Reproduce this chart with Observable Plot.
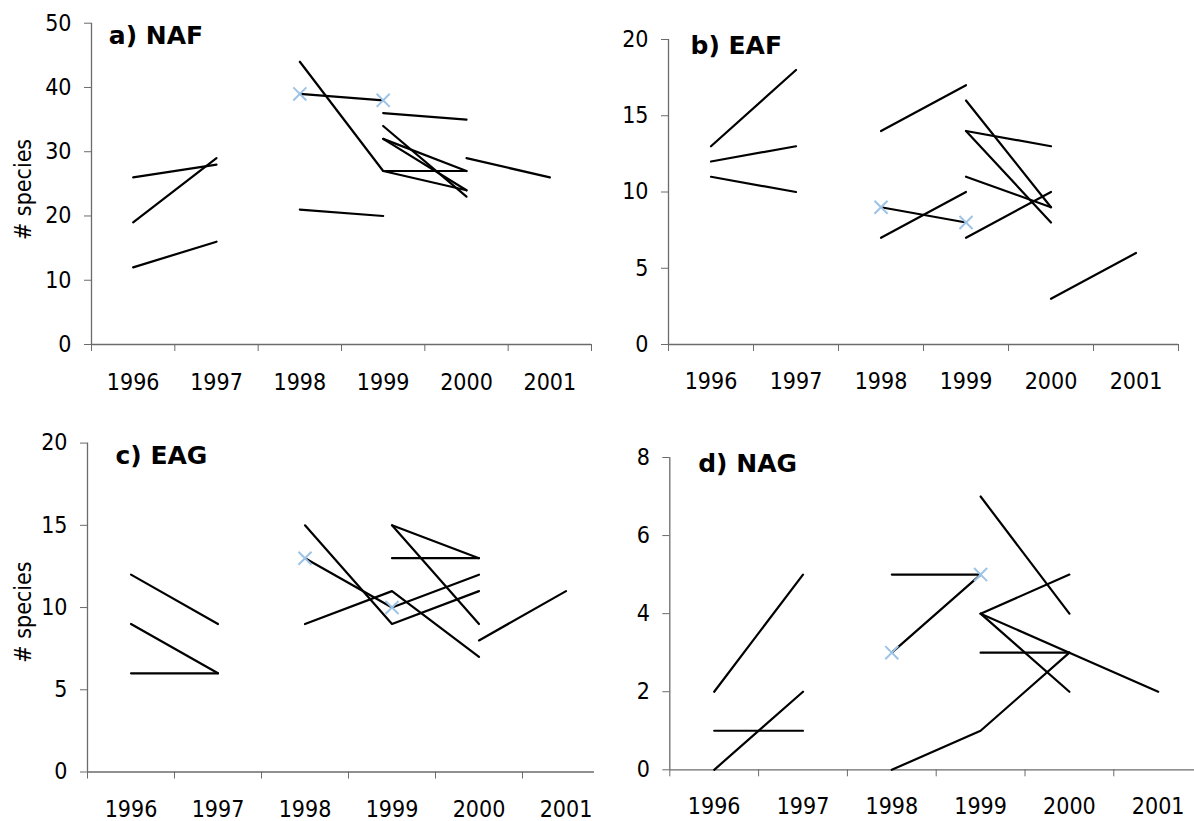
<!DOCTYPE html>
<html>
<head>
<meta charset="utf-8">
<script src="https://cdn.jsdelivr.net/npm/d3@7"></script>
<script src="https://cdn.jsdelivr.net/npm/@observablehq/plot@0.6"></script>
<style>
  html, body { margin: 0; padding: 0; background: #fff; overflow: hidden; width: 1194px; height: 821px; }
  .panel { position: absolute; overflow: hidden; }
</style>
</head>
<body>
<div id="pa" class="panel" style="left:0px;top:0px;width:600px;height:410px"></div>
<div id="pb" class="panel" style="left:600px;top:0px;width:594px;height:410px"></div>
<div id="pc" class="panel" style="left:0px;top:410px;width:594px;height:411px"></div>
<div id="pd" class="panel" style="left:600px;top:410px;width:594px;height:411px"></div>
<script>
// ---------- data ----------
const years = [1996, 1997, 1998, 1999, 2000, 2001];
const yearBounds = [1995.5, 1996.5, 1997.5, 1998.5, 1999.5, 2000.5, 2001.5];

// a) NAF
const nafStart  = [1996, 1996, 1996, 1998, 1998, 1998, 1999, 1999, 1999, 1999, 1999, 2000];
const nafValues = [[26, 28], [19, 29], [12, 16], [44, 27, 27], [39, 38], [21, 20], [36, 35], [34, 23], [32, 27], [32, 24], [27, 24], [29, 26]];
const nafMarkYears = [1998, 1999];
const nafMarkValues = [39, 38];
const nafTicks = [0, 10, 20, 30, 40, 50];

// b) EAF
const eafStart  = [1996, 1996, 1996, 1998, 1998, 1998, 1999, 1999, 1999, 1999, 1999, 2000];
const eafValues = [[13, 18], [12, 13], [11, 10], [14, 17], [9, 8], [7, 10], [16, 9], [14, 13], [14, 8], [11, 9], [7, 10], [3, 6]];
const eafMarkYears = [1998, 1999];
const eafMarkValues = [9, 8];
const eafTicks = [0, 5, 10, 15, 20];

// c) EAG
const eagStart  = [1996, 1996, 1996, 1998, 1998, 1998, 1999, 1999, 1999, 1999, 2000];
const eagValues = [[12, 9], [9, 6], [6, 6], [15, 9, 11], [9, 11, 7], [13, 10], [10, 12], [15, 13], [15, 9], [13, 13], [8, 11]];
const eagMarkYears = [1998, 1999];
const eagMarkValues = [13, 10];
const eagTicks = [0, 5, 10, 15, 20];

// d) NAG
const nagStart  = [1996, 1996, 1996, 1998, 1998, 1998, 1999, 1999, 1999, 1999, 1999];
const nagValues = [[2, 5], [0, 2], [1, 1], [5, 5], [3, 5], [0, 1, 3], [7, 4], [4, 5], [4, 2], [4, 3, 2], [3, 3]];
const nagMarkYears = [1998, 1999];
const nagMarkValues = [3, 5];
const nagTicks = [0, 2, 4, 6, 8];

// ---------- drawing ----------
const FONT = "'DejaVu Sans Condensed', 'DejaVu Sans', sans-serif";
const AXIS = "#6b6b6b";

function toRows(start, values) {
  return values.flatMap((vals, i) => vals.map((v, j) => ({id: i, year: start[i] + j, value: v})));
}

function panel(o) {
  const rows = toRows(o.start, o.values);
  const marks = o.markYears.map((y, i) => ({year: y, value: o.markValues[i]}));
  const plot = Plot.plot({
    width: o.width, height: o.height,
    marginLeft: o.ml, marginRight: o.mr, marginTop: o.mt, marginBottom: o.mb,
    style: {background: "transparent", overflow: "visible", maxWidth: "none", fontFamily: FONT, fontSize: "23px", color: "black"},
    x: {type: "linear", domain: [1995.5, 2001.5]},
    y: {domain: [0, o.ticks[o.ticks.length - 1]]},
    marks: [
      Plot.axisY({ticks: o.ticks, tickSize: 7, tickPadding: 13, stroke: AXIS, fill: "black", fontSize: 23, fontFamily: FONT, label: null}),
      Plot.axisX({ticks: yearBounds, tickSize: 7, tickFormat: () => "", stroke: AXIS, label: null}),
      Plot.axisX({ticks: years, tickSize: 0, tickPadding: o.labelPad, tickFormat: d => String(d), fill: "black", fontSize: 23, fontFamily: FONT, label: null}),
      Plot.ruleX([1995.5], {stroke: AXIS, strokeWidth: 1.3}),
      Plot.ruleY([0], {stroke: AXIS, strokeWidth: 1.3}),
      Plot.line(rows, {x: "year", y: "value", z: "id", stroke: "black", strokeWidth: 2.2}),
      Plot.dot(marks, {x: "year", y: "value", symbol: "times", r: 6, stroke: "#9dc3e6", strokeWidth: 2}),
      Plot.text([o.title], {frameAnchor: "top-left", dx: o.tdx, dy: o.tdy, text: d => d, fontWeight: "bold", fontSize: 25, fontFamily: "'DejaVu Sans', sans-serif", textAnchor: "start", lineAnchor: "bottom", fill: "black"}),
      o.ylabel ? Plot.text([o.ylabel], {frameAnchor: "left", rotate: -90, dx: 30 - o.ml, dy: o.ldy, text: d => d, fontSize: 23, fontFamily: FONT, textAnchor: "middle", lineAnchor: "bottom", fill: "black"}) : null
    ]
  });
  document.getElementById(o.el).appendChild(plot);
}

panel({el: "pa", start: nafStart, values: nafValues, markYears: nafMarkYears, markValues: nafMarkValues, ticks: nafTicks,
  title: "a) NAF", ylabel: "# species",
  width: 600, height: 410, ml: 91, mr: 9, mt: 22.7, mb: 66, labelPad: 29.5, tdx: 17.3, tdy: 20.6, ldy: 5.6});

panel({el: "pb", start: eafStart, values: eafValues, markYears: eafMarkYears, markValues: eafMarkValues, ticks: eafTicks,
  title: "b) EAF", ylabel: null,
  width: 594, height: 410, ml: 68, mr: 16, mt: 39, mb: 66, labelPad: 28, tdx: 22, tdy: 14.3, ldy: 0});

panel({el: "pc", start: eagStart, values: eagValues, markYears: eagMarkYears, markValues: eagMarkValues, ticks: eagTicks,
  title: "c) EAG", ylabel: "# species",
  width: 620, height: 411, ml: 87, mr: 11, mt: 32.6, mb: 49.5, labelPad: 29, tdx: 28, tdy: 20.7, ldy: 4.5});

panel({el: "pd", start: nagStart, values: nagValues, markYears: nagMarkYears, markValues: nagMarkValues, ticks: nagTicks,
  title: "d) NAG", ylabel: null,
  width: 620, height: 411, ml: 69.3, mr: 17.9, mt: 47, mb: 51.7, labelPad: 28, tdx: 28.4, tdy: 14.7, ldy: 0});
</script>
</body>
</html>
